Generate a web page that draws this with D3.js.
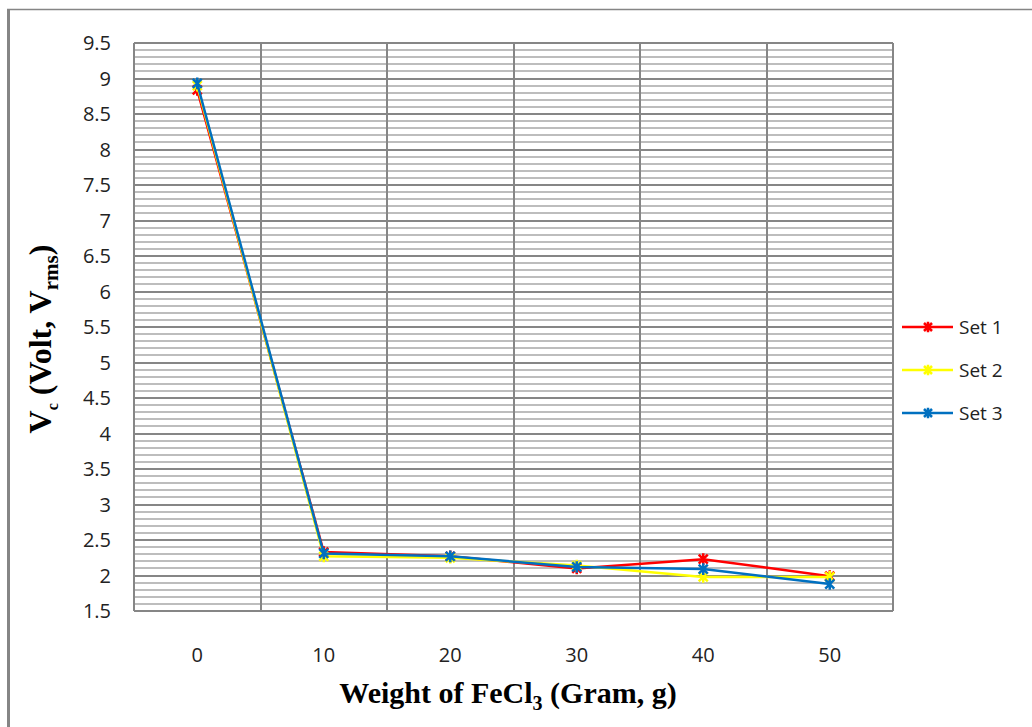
<!DOCTYPE html>
<html>
<head>
<meta charset="utf-8">
<script src="https://cdn.jsdelivr.net/npm/d3@7"></script>
<style>
  body { margin: 0; background: #fff; }
  text { font-family: "Open Sans", "Noto Sans", sans-serif; }
</style>
</head>
<body>
<div id="canvas"></div>
<script>
const categories = ["0", "10", "20", "30", "40", "50"];
const set1 = [8.84, 2.33, 2.27, 2.10, 2.23, 1.99];
const set2 = [8.90, 2.27, 2.25, 2.14, 1.98, 1.98];
const set3 = [8.93, 2.31, 2.27, 2.12, 2.09, 1.88];
const seriesNames = ["Set 1", "Set 2", "Set 3"];
const seriesColors = ["#ff0000", "#ffff00", "#0070c0"];
const yTicks = d3.range(1.5, 9.51, 0.5);

const margin = { left: 134, right: 139, top: 43, bottom: 116 };
const width = 1032, height = 727;

const svg = d3.select("#canvas")
  .append("svg")
  .attr("width", width)
  .attr("height", height);

// outer frame
svg.append("line").attr("x1", 8.5).attr("x2", 8.5).attr("y1", 9).attr("y2", height)
  .attr("stroke", "#858585").attr("stroke-width", 3);
svg.append("line").attr("x1", 7).attr("x2", width).attr("y1", 9.5).attr("y2", 9.5)
  .attr("stroke", "#858585").attr("stroke-width", 1.5);

const x = d3.scaleBand()
  .domain(categories)
  .range([margin.left, width - margin.right]);

const y = d3.scaleLinear()
  .domain([1.5, 9.5])
  .range([height - margin.bottom, margin.top]);

const grid = svg.append("g").attr("shape-rendering", "crispEdges");

// minor horizontal lines every 0.1
grid.selectAll("line.minor")
  .data(d3.range(15, 96).map(d => d / 10).filter(d => Math.abs(d * 2 - Math.round(d * 2)) > 0.01))
  .enter().append("line")
  .attr("class", "minor")
  .attr("x1", margin.left).attr("x2", width - margin.right)
  .attr("y1", d => Math.round(y(d))).attr("y2", d => Math.round(y(d)))
  .attr("stroke", "#bdbdbd").attr("stroke-width", 1.6);

// major horizontal lines
grid.selectAll("line.major")
  .data(yTicks)
  .enter().append("line")
  .attr("class", "major")
  .attr("x1", margin.left).attr("x2", width - margin.right)
  .attr("y1", d => Math.round(y(d))).attr("y2", d => Math.round(y(d)))
  .attr("stroke", "#868686").attr("stroke-width", 1.6);

// vertical category lines
const vx = categories.map(c => x(c)).concat([x.range()[1]]);
grid.selectAll("line.vert")
  .data(vx)
  .enter().append("line")
  .attr("class", "vert")
  .attr("x1", d => Math.round(d)).attr("x2", d => Math.round(d))
  .attr("y1", y(9.5)).attr("y2", y(1.5))
  .attr("stroke", "#868686").attr("stroke-width", 1.6);

// y axis labels
svg.append("g").selectAll("text")
  .data(yTicks)
  .enter().append("text")
  .attr("x", 111)
  .attr("y", d => y(d) + 7)
  .attr("text-anchor", "end")
  .attr("font-size", 20)
  .attr("fill", "#222")
  .text(d => d3.format("")(d));

// x axis labels
svg.append("g").selectAll("text")
  .data(categories)
  .enter().append("text")
  .attr("x", d => x(d) + x.bandwidth() / 2)
  .attr("y", 662)
  .attr("text-anchor", "middle")
  .attr("font-size", 20)
  .attr("fill", "#222")
  .text(d => d);

// axis titles
const xt = svg.append("text")
  .attr("x", 508).attr("y", 703)
  .attr("text-anchor", "middle")
  .style("font-family", "'Liberation Serif', serif")
  .attr("font-weight", "bold")
  .attr("font-size", 30)
  .attr("fill", "#000");
xt.append("tspan").text("Weight of FeCl");
xt.append("tspan").attr("dy", 7).attr("font-size", 20).text("3");
xt.append("tspan").attr("dy", -7).text(" (Gram, g)");

const yt = svg.append("text")
  .attr("transform", "translate(51,339) rotate(-90)")
  .attr("text-anchor", "middle")
  .style("font-family", "'Liberation Serif', serif")
  .attr("font-weight", "bold")
  .attr("font-size", 32)
  .attr("fill", "#000");
yt.append("tspan").text("V");
yt.append("tspan").attr("dy", 7).attr("font-size", 16).text("c");
yt.append("tspan").attr("dy", -7).text(" (Volt, V");
yt.append("tspan").attr("dy", 7).attr("font-size", 21).text("rms");
yt.append("tspan").attr("dy", -7).text(")");

// series
const allSeries = [set1, set2, set3];
const line = d3.line()
  .x((d, i) => x(categories[i]) + x.bandwidth() / 2)
  .y(d => y(d));

function starPath(cx, cy, r) {
  return `M${cx - r},${cy - r}L${cx + r},${cy + r}M${cx - r},${cy + r}L${cx + r},${cy - r}` +
    `M${cx},${cy - r * 1.3}L${cx},${cy + r * 1.3}`;
}

allSeries.forEach((vals, k) => {
  const g = svg.append("g");
  g.append("path")
    .datum(vals)
    .attr("d", line)
    .attr("fill", "none")
    .attr("stroke", seriesColors[k])
    .attr("stroke-width", 2.5);
  g.selectAll("path.mk")
    .data(vals)
    .enter().append("path")
    .attr("class", "mk")
    .attr("d", (d, i) => starPath(x(categories[i]) + x.bandwidth() / 2, y(d), 4.5))
    .attr("stroke", seriesColors[k])
    .attr("stroke-width", 2.5)
    .attr("fill", "none");
});

// legend
const legend = svg.append("g");
seriesNames.forEach((name, k) => {
  const ly = 327 + k * 43;
  legend.append("line")
    .attr("x1", 902).attr("x2", 953)
    .attr("y1", ly).attr("y2", ly)
    .attr("stroke", seriesColors[k]).attr("stroke-width", 2.5);
  legend.append("path")
    .attr("d", starPath(928, ly, 4))
    .attr("stroke", seriesColors[k]).attr("stroke-width", 2.5);
  legend.append("text")
    .attr("x", 959).attr("y", ly + 7)
    .attr("font-size", 19)
    .attr("fill", "#222")
    .text(name);
});
</script>
</body>
</html>
